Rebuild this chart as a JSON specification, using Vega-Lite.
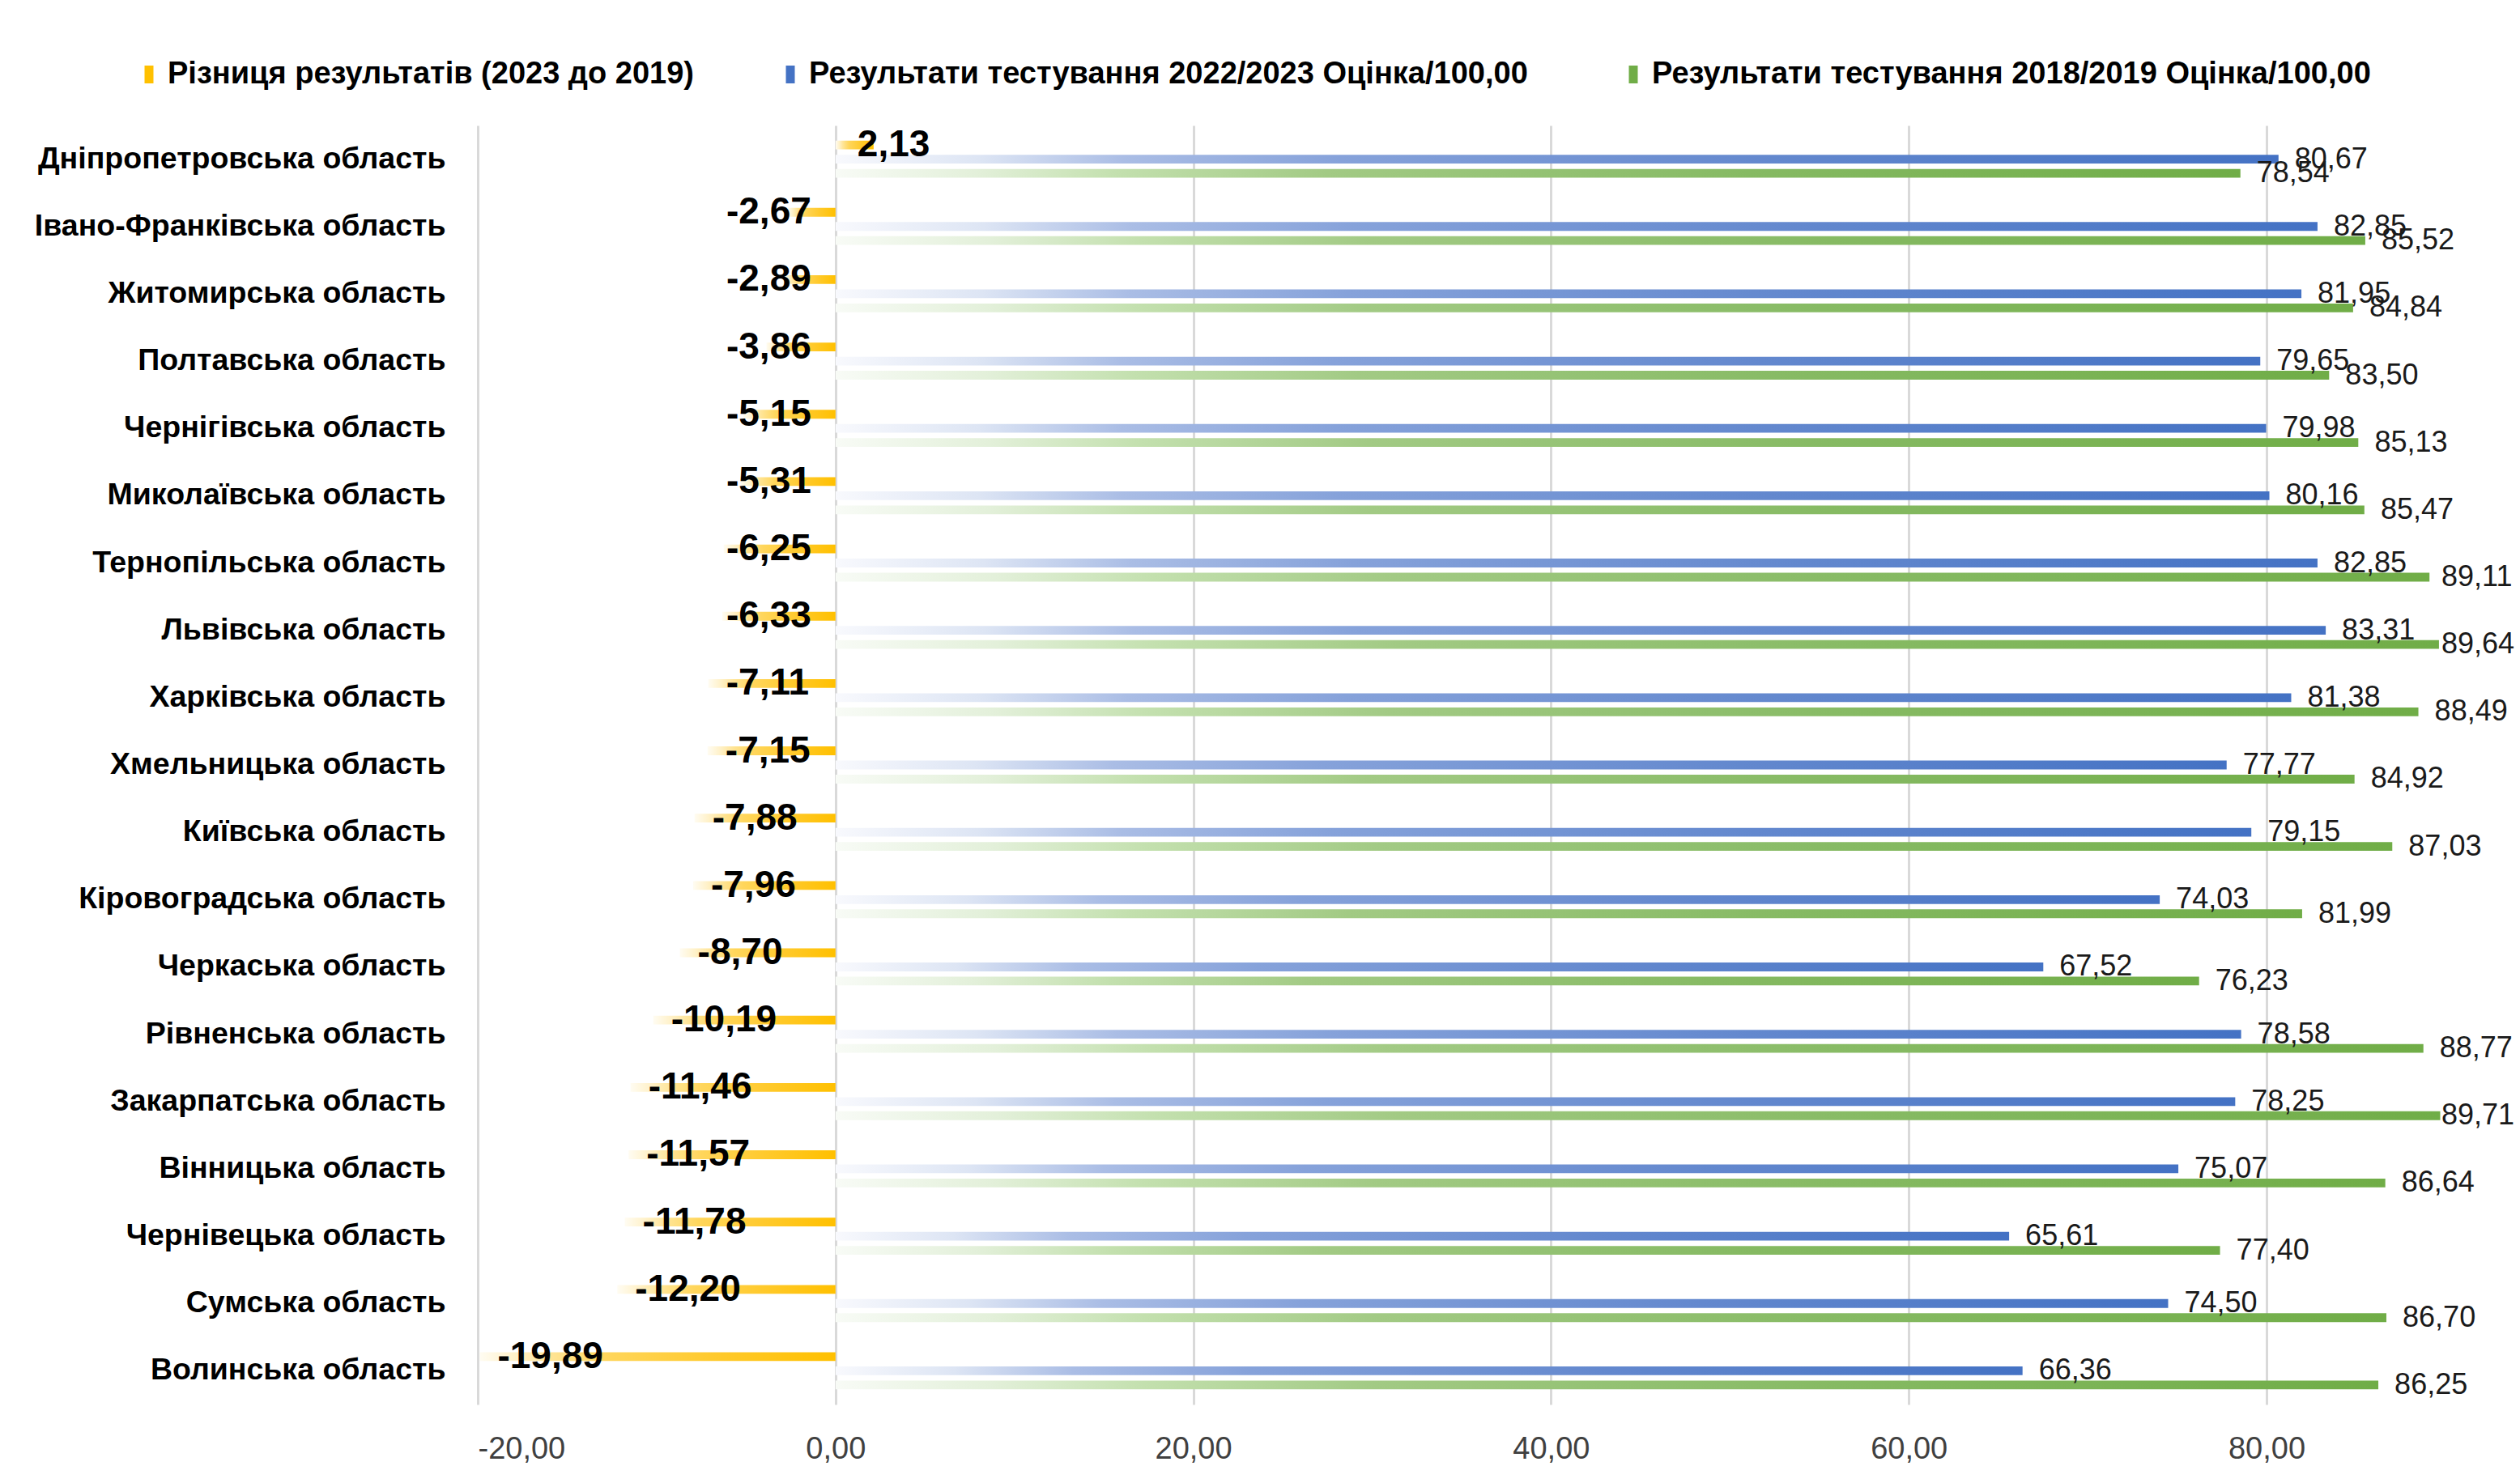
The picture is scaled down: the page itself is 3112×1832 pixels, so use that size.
{
  "$schema": "https://vega.github.io/schema/vega-lite/v6.json",
  "width": 2522,
  "height": 1580,
  "autosize": {"type": "none"},
  "padding": {"left": 590, "top": 155, "right": 0, "bottom": 97},
  "background": "white",
  "config": {
    "view": {"stroke": null},
    "font": "Liberation Sans",
    "locale": {"number": {"decimal": ",", "thousands": " ", "grouping": [3], "currency": ["", ""], "minus": "-"}}
  },
  "data": {"values": [
    {"r": "Дніпропетровська область", "s": "Різниця результатів (2023 до 2019)", "v": 2.13},
    {"r": "Дніпропетровська область", "s": "Результати тестування  2022/2023 Оцінка/100,00", "v": 80.67},
    {"r": "Дніпропетровська область", "s": "Результати тестування 2018/2019 Оцінка/100,00", "v": 78.54},
    {"r": "Івано-Франківська область", "s": "Різниця результатів (2023 до 2019)", "v": -2.67},
    {"r": "Івано-Франківська область", "s": "Результати тестування  2022/2023 Оцінка/100,00", "v": 82.85},
    {"r": "Івано-Франківська область", "s": "Результати тестування 2018/2019 Оцінка/100,00", "v": 85.52},
    {"r": "Житомирська область", "s": "Різниця результатів (2023 до 2019)", "v": -2.89},
    {"r": "Житомирська область", "s": "Результати тестування  2022/2023 Оцінка/100,00", "v": 81.95},
    {"r": "Житомирська область", "s": "Результати тестування 2018/2019 Оцінка/100,00", "v": 84.84},
    {"r": "Полтавська область", "s": "Різниця результатів (2023 до 2019)", "v": -3.86},
    {"r": "Полтавська область", "s": "Результати тестування  2022/2023 Оцінка/100,00", "v": 79.65},
    {"r": "Полтавська область", "s": "Результати тестування 2018/2019 Оцінка/100,00", "v": 83.50},
    {"r": "Чернігівська область", "s": "Різниця результатів (2023 до 2019)", "v": -5.15},
    {"r": "Чернігівська область", "s": "Результати тестування  2022/2023 Оцінка/100,00", "v": 79.98},
    {"r": "Чернігівська область", "s": "Результати тестування 2018/2019 Оцінка/100,00", "v": 85.13},
    {"r": "Миколаївська область", "s": "Різниця результатів (2023 до 2019)", "v": -5.31},
    {"r": "Миколаївська область", "s": "Результати тестування  2022/2023 Оцінка/100,00", "v": 80.16},
    {"r": "Миколаївська область", "s": "Результати тестування 2018/2019 Оцінка/100,00", "v": 85.47},
    {"r": "Тернопільська область", "s": "Різниця результатів (2023 до 2019)", "v": -6.25},
    {"r": "Тернопільська область", "s": "Результати тестування  2022/2023 Оцінка/100,00", "v": 82.85},
    {"r": "Тернопільська область", "s": "Результати тестування 2018/2019 Оцінка/100,00", "v": 89.11},
    {"r": "Львівська область", "s": "Різниця результатів (2023 до 2019)", "v": -6.33},
    {"r": "Львівська область", "s": "Результати тестування  2022/2023 Оцінка/100,00", "v": 83.31},
    {"r": "Львівська область", "s": "Результати тестування 2018/2019 Оцінка/100,00", "v": 89.64},
    {"r": "Харківська область", "s": "Різниця результатів (2023 до 2019)", "v": -7.11},
    {"r": "Харківська область", "s": "Результати тестування  2022/2023 Оцінка/100,00", "v": 81.38},
    {"r": "Харківська область", "s": "Результати тестування 2018/2019 Оцінка/100,00", "v": 88.49},
    {"r": "Хмельницька область", "s": "Різниця результатів (2023 до 2019)", "v": -7.15},
    {"r": "Хмельницька область", "s": "Результати тестування  2022/2023 Оцінка/100,00", "v": 77.77},
    {"r": "Хмельницька область", "s": "Результати тестування 2018/2019 Оцінка/100,00", "v": 84.92},
    {"r": "Київська область", "s": "Різниця результатів (2023 до 2019)", "v": -7.88},
    {"r": "Київська область", "s": "Результати тестування  2022/2023 Оцінка/100,00", "v": 79.15},
    {"r": "Київська область", "s": "Результати тестування 2018/2019 Оцінка/100,00", "v": 87.03},
    {"r": "Кіровоградська область", "s": "Різниця результатів (2023 до 2019)", "v": -7.96},
    {"r": "Кіровоградська область", "s": "Результати тестування  2022/2023 Оцінка/100,00", "v": 74.03},
    {"r": "Кіровоградська область", "s": "Результати тестування 2018/2019 Оцінка/100,00", "v": 81.99},
    {"r": "Черкаська область", "s": "Різниця результатів (2023 до 2019)", "v": -8.70},
    {"r": "Черкаська область", "s": "Результати тестування  2022/2023 Оцінка/100,00", "v": 67.52},
    {"r": "Черкаська область", "s": "Результати тестування 2018/2019 Оцінка/100,00", "v": 76.23},
    {"r": "Рівненська область", "s": "Різниця результатів (2023 до 2019)", "v": -10.19},
    {"r": "Рівненська область", "s": "Результати тестування  2022/2023 Оцінка/100,00", "v": 78.58},
    {"r": "Рівненська область", "s": "Результати тестування 2018/2019 Оцінка/100,00", "v": 88.77},
    {"r": "Закарпатська область", "s": "Різниця результатів (2023 до 2019)", "v": -11.46},
    {"r": "Закарпатська область", "s": "Результати тестування  2022/2023 Оцінка/100,00", "v": 78.25},
    {"r": "Закарпатська область", "s": "Результати тестування 2018/2019 Оцінка/100,00", "v": 89.71},
    {"r": "Вінницька область", "s": "Різниця результатів (2023 до 2019)", "v": -11.57},
    {"r": "Вінницька область", "s": "Результати тестування  2022/2023 Оцінка/100,00", "v": 75.07},
    {"r": "Вінницька область", "s": "Результати тестування 2018/2019 Оцінка/100,00", "v": 86.64},
    {"r": "Чернівецька область", "s": "Різниця результатів (2023 до 2019)", "v": -11.78},
    {"r": "Чернівецька область", "s": "Результати тестування  2022/2023 Оцінка/100,00", "v": 65.61},
    {"r": "Чернівецька область", "s": "Результати тестування 2018/2019 Оцінка/100,00", "v": 77.40},
    {"r": "Сумська область", "s": "Різниця результатів (2023 до 2019)", "v": -12.20},
    {"r": "Сумська область", "s": "Результати тестування  2022/2023 Оцінка/100,00", "v": 74.50},
    {"r": "Сумська область", "s": "Результати тестування 2018/2019 Оцінка/100,00", "v": 86.70},
    {"r": "Волинська область", "s": "Різниця результатів (2023 до 2019)", "v": -19.89},
    {"r": "Волинська область", "s": "Результати тестування  2022/2023 Оцінка/100,00", "v": 66.36},
    {"r": "Волинська область", "s": "Результати тестування 2018/2019 Оцінка/100,00", "v": 86.25}
  ]},
  "encoding": {
    "y": {
      "field": "r", "type": "nominal", "sort": null, "title": null,
      "scale": {"paddingInner": 0.37, "paddingOuter": 0.185},
      "axis": {"labelFontSize": 37.5, "labelFontWeight": "bold", "labelColor": "#000000", "labelPadding": 40, "labelLimit": 0, "ticks": false, "domain": false, "grid": false}
    },
    "yOffset": {
      "field": "s", "type": "nominal",
      "sort": ["Різниця результатів (2023 до 2019)", "Результати тестування  2022/2023 Оцінка/100,00", "Результати тестування 2018/2019 Оцінка/100,00"],
      "scale": {"paddingInner": 0.38, "paddingOuter": 0.19}
    }
  },
  "layer": [
    {
      "layer": [
        {
          "transform": [{"filter": "false"}],
          "mark": {"type": "bar"},
          "encoding": {
            "x": {
              "field": "v", "type": "quantitative", "title": null,
              "scale": {"domain": [-20, 94.17], "nice": false},
              "axis": {"values": [-20, 0, 20, 40, 60, 80], "format": ".2f", "labelFontSize": 38, "labelColor": "#404040", "labelPadding": 36, "ticks": false, "domain": false, "grid": true, "gridColor": "#d9d9d9", "gridWidth": 3}
            },
            "color": {
              "field": "s", "type": "nominal",
              "scale": {
                "domain": ["Різниця результатів (2023 до 2019)", "Результати тестування  2022/2023 Оцінка/100,00", "Результати тестування 2018/2019 Оцінка/100,00"],
                "range": ["#ffc000", "#4472c4", "#70ad47"]
              },
              "legend": {
                "title": null, "orient": "none", "legendX": -425, "legendY": -82, "direction": "horizontal",
                "columnPadding": 100, "labelFontSize": 38, "labelFontWeight": "bold", "labelColor": "#000000", "labelLimit": 0, "labelOffset": 4,
                "symbolType": "M-0.5,-1H0.5V1H-0.5Z", "symbolSize": 484, "symbolStrokeWidth": 0
              }
            }
          }
        },
        {
          "transform": [{"filter": "datum.s === 'Різниця результатів (2023 до 2019)'"}],
          "mark": {"type": "bar", "fill": {"gradient": "linear", "x1": 0, "x2": 1, "y1": 0, "y2": 0, "stops": [{"offset": 0, "color": "#fffcf2"}, {"offset": 0.1, "color": "#fff1c8"}, {"offset": 0.2, "color": "#ffe495"}, {"offset": 0.35, "color": "#ffd65c"}, {"offset": 0.65, "color": "#ffca2e"}, {"offset": 1, "color": "#ffc000"}]}},
          "encoding": {"x": {"field": "v", "type": "quantitative"}}
        },
        {
          "transform": [{"filter": "datum.s === 'Результати тестування  2022/2023 Оцінка/100,00'"}],
          "mark": {"type": "bar", "fill": {"gradient": "linear", "x1": 0, "x2": 1, "y1": 0, "y2": 0, "stops": [{"offset": 0, "color": "#f8f9fd"}, {"offset": 0.1, "color": "#dde5f4"}, {"offset": 0.2, "color": "#aabde5"}, {"offset": 0.35, "color": "#86a2da"}, {"offset": 0.65, "color": "#6388ce"}, {"offset": 1, "color": "#4472c4"}]}},
          "encoding": {"x": {"field": "v", "type": "quantitative"}}
        },
        {
          "transform": [{"filter": "datum.s === 'Результати тестування 2018/2019 Оцінка/100,00'"}],
          "mark": {"type": "bar", "fill": {"gradient": "linear", "x1": 0, "x2": 1, "y1": 0, "y2": 0, "stops": [{"offset": 0, "color": "#f8fbf6"}, {"offset": 0.1, "color": "#e3f0da"}, {"offset": 0.2, "color": "#c3e0ae"}, {"offset": 0.35, "color": "#a2ca84"}, {"offset": 0.65, "color": "#86ba63"}, {"offset": 1, "color": "#70ad47"}]}},
          "encoding": {"x": {"field": "v", "type": "quantitative"}}
        },
        {
          "transform": [{"filter": "datum.s === 'Результати тестування  2022/2023 Оцінка/100,00'"}],
          "mark": {"type": "text", "align": "left", "baseline": "middle", "dx": 20, "fontSize": 36, "color": "#1a1a1a"},
          "encoding": {
            "x": {"field": "v", "type": "quantitative"},
            "text": {"field": "v", "type": "quantitative", "format": ".2f"}
          }
        },
        {
          "transform": [{"filter": "datum.s === 'Різниця результатів (2023 до 2019)' && datum.v > 0"}],
          "mark": {"type": "text", "align": "left", "baseline": "middle", "dx": -20, "fontSize": 46, "fontWeight": "bold", "color": "#000000"},
          "encoding": {
            "x": {"field": "v", "type": "quantitative"},
            "text": {"field": "v", "type": "quantitative", "format": ".2f"}
          }
        }
      ]
    },
    {
      "transform": [{"filter": "datum.s === 'Результати тестування 2018/2019 Оцінка/100,00'"}],
      "mark": {"type": "text", "align": "left", "baseline": "middle", "dx": 20, "fontSize": 36, "color": "#1a1a1a"},
      "encoding": {
        "x": {"field": "v", "type": "quantitative", "scale": {"domain": [-20, 88.87], "range": [0, 2405], "clamp": true}, "axis": null},
        "text": {"field": "v", "type": "quantitative", "format": ".2f"}
      }
    },
    {
      "transform": [{"filter": "datum.s === 'Різниця результатів (2023 до 2019)' && datum.v < 0"}],
      "mark": {"type": "text", "align": "left", "baseline": "middle", "dx": 22, "fontSize": 46, "fontWeight": "bold", "color": "#000000"},
      "encoding": {
        "x": {"field": "v", "type": "quantitative", "scale": {"domain": [-20, -7.1], "range": [0, 284.96], "clamp": true}, "axis": null},
        "text": {"field": "v", "type": "quantitative", "format": ".2f"}
      }
    }
  ],
  "resolve": {"scale": {"x": "independent"}}
}
